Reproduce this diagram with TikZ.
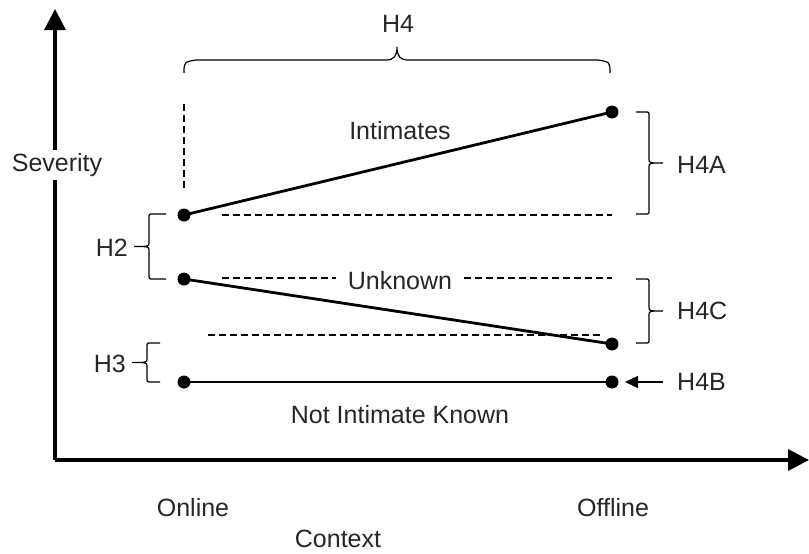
\documentclass[tikz,border=0pt]{standalone}
\usepackage{fontspec}
\setmainfont{Liberation Sans}
\usetikzlibrary{arrows.meta}
\tikzset{
  axis/.style={line width=3.5pt, -{Triangle[length=21pt,width=21pt]}},
  dataline/.style={line width=2.8pt},
  dot/.style={circle, fill=black, minimum size=13pt, inner sep=0pt},
  dashline/.style={line width=1.2pt, dash pattern=on 7pt off 4pt},
  brc/.style={line width=1.2pt},
  lbl/.style={inner sep=0pt, font=\fontsize{25}{30}\selectfont, text=black!85},
}
\newcommand{\vbrace}[6]{%
  \draw[brc] (#1,#2) -- ({#4-4*#6},#2) .. controls (#4,#2) .. (#4,{#2+4})
    -- (#4,{(#2+#3)/2-4}) .. controls (#4,{(#2+#3)/2}) .. (#5,{(#2+#3)/2})
    .. controls (#4,{(#2+#3)/2}) .. (#4,{(#2+#3)/2+4})
    -- (#4,{#3-4}) .. controls (#4,#3) .. ({#4-4*#6},#3) -- (#1,#3);}
\begin{document}
\begin{tikzpicture}[x=1pt,y=-1pt]
\useasboundingbox (0,0) rectangle (809,554);
% axes
\coordinate (org) at (55,460);
\coordinate (ytop) at (55,9);
\coordinate (xend) at (809,460);
\draw[axis] (org) -- (ytop);
\draw[axis] (org) -- (xend);
\node[lbl, fill=white, inner sep=3pt] (sev) at (57,165) {Severity};
\node[lbl] (online) at (193,508) {Online};
\node[lbl] (offline) at (613,508) {Offline};
\node[lbl] (context) at (338,539) {Context};
% dashed guides
\coordinate (v1) at (184,104);
\coordinate (v2) at (184,190);
\draw[dashline] (v1) -- (v2);
\coordinate (d1a) at (222,215); \coordinate (d1b) at (612,215);
\draw[dashline] (d1a) -- (d1b);
\coordinate (d2a) at (222,278); \coordinate (d2b) at (612,278);
\draw[dashline] (d2a) -- (d2b);
\coordinate (d3a) at (208,335); \coordinate (d3b) at (602,335);
\draw[dashline] (d3a) -- (d3b);
% data points
\node[dot] (oni) at (184,215) {};
\node[dot] (ofi) at (612,112) {};
\node[dot] (onu) at (184,279) {};
\node[dot] (ofu) at (612,344) {};
\node[dot] (onk) at (184,382) {};
\node[dot] (ofk) at (612,382) {};
\draw[dataline] (oni.center) -- (ofi.center);
\draw[dataline] (onu.center) -- (ofu.center);
\draw[dataline] (onk.center) -- (ofk.center);
% line labels
\node[lbl] (intim) at (400,131) {Intimates};
\node[lbl, fill=white, inner xsep=12pt, inner ysep=2pt] (unk) at (400,281) {Unknown};
\node[lbl] (nik) at (400,415) {Not Intimate Known};
% top brace H4
\draw[brc] (184,73) .. controls (184,62) .. (196,60) -- (386,60)
  .. controls (394,60) and (397,56) .. (397,47)
  .. controls (397,56) and (400,60) .. (408,60) -- (598,60)
  .. controls (610,62) .. (610,73);
\node[lbl] (h4) at (398,24) {H4};
% right braces
\vbrace{636}{112}{214}{649}{663}{1}
\node[lbl, anchor=west] (h4a) at (677,165) {H4A};
\vbrace{636}{279}{343}{649}{663}{1}
\node[lbl, anchor=west] (h4c) at (677,311) {H4C};
% H4B arrow
\node[lbl, anchor=west] (h4b) at (677,382) {H4B};
\coordinate (h4bt) at (663,382);
\draw[line width=1.2pt, -{Triangle[length=13pt,width=12pt]}, shorten >=13pt] (h4bt) -- (ofk.center);
% left braces
\vbrace{166}{214}{279}{149}{134}{-1}
\node[lbl, anchor=east] (h2) at (128,248) {H2};
\vbrace{160}{343}{382}{147}{132}{-1}
\node[lbl, anchor=east] (h3) at (126,364) {H3};
\end{tikzpicture}
\end{document}
